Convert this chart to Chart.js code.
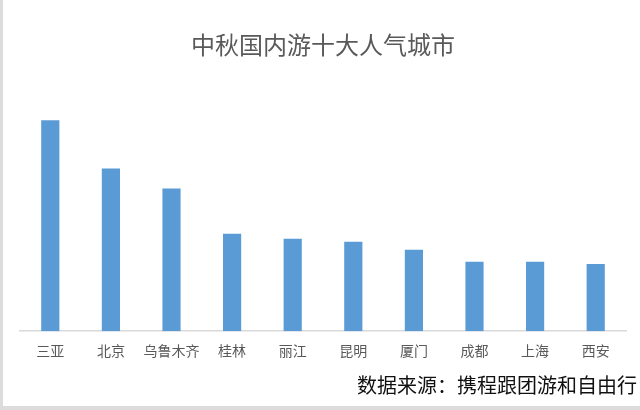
<!DOCTYPE html>
<html>
<head>
<meta charset="utf-8">
<script src="https://cdn.jsdelivr.net/npm/chart.js@4"></script>
<style>
  html, body { margin: 0; padding: 0; background: #fff; }
  #wrap { width: 640px; height: 410px; position: relative; }
</style>
</head>
<body>
<div id="wrap"><canvas id="chart"></canvas></div>
<script>
const cities = ["三亚", "北京", "乌鲁木齐", "桂林", "丽江", "昆明", "厦门", "成都", "上海", "西安"]
const popularity = [210, 162, 142, 97, 92, 89, 81, 69, 69, 67]
const yMax = 250
const titleText = "中秋国内游十大人气城市"
const sourceText = "数据来源：携程跟团游和自由行"

const FONT = "'Noto Sans CJK SC', 'Noto Sans', sans-serif"

// frame lines and the source note
const decorations = {
  id: "decorations",
  beforeDraw(chart) {
    const { ctx, width, height } = chart
    ctx.save()
    ctx.fillStyle = "#fff"
    ctx.fillRect(0, 0, width, height)
    ctx.fillStyle = "#dcdcdc"
    ctx.fillRect(0, 0, 3, height)
    ctx.fillRect(0, height - 4, width, 4)
    ctx.restore()
  },
  afterDraw(chart) {
    const { ctx } = chart
    ctx.save()
    ctx.font = "20px " + FONT
    ctx.fillStyle = "#111"
    ctx.textAlign = "right"
    ctx.textBaseline = "middle"
    ctx.fillText(sourceText, 637, 385)
    ctx.restore()
  },
}

const ctx = document.getElementById("chart").getContext("2d")
new Chart(ctx, {
  type: "bar",
  data: {
    labels: cities,
    datasets: [
      {
        data: popularity,
        backgroundColor: "#5b9bd5",
        barPercentage: 0.3,
        categoryPercentage: 1,
      },
    ],
  },
  options: {
    responsive: true,
    maintainAspectRatio: false,
    animation: false,
    layout: { padding: { left: 20, right: 14, top: 0, bottom: 40 } },
    plugins: {
      legend: { display: false },
      tooltip: { enabled: false },
      title: {
        display: true,
        text: titleText,
        color: "#595959",
        font: { family: FONT, size: 24, weight: "normal" },
        padding: { top: 30.6, bottom: 20.6 },
      },
    },
    scales: {
      x: {
        grid: { display: false, drawTicks: false },
        border: { color: "#d9d9d9", width: 1.5 },
        ticks: {
          color: "#595959",
          padding: 11,
          font: { family: FONT, size: 14 },
          maxRotation: 0,
          autoSkip: false,
        },
      },
      y: {
        display: false,
        min: 0,
        max: yMax,
      },
    },
  },
  plugins: [decorations],
})
</script>
</body>
</html>
